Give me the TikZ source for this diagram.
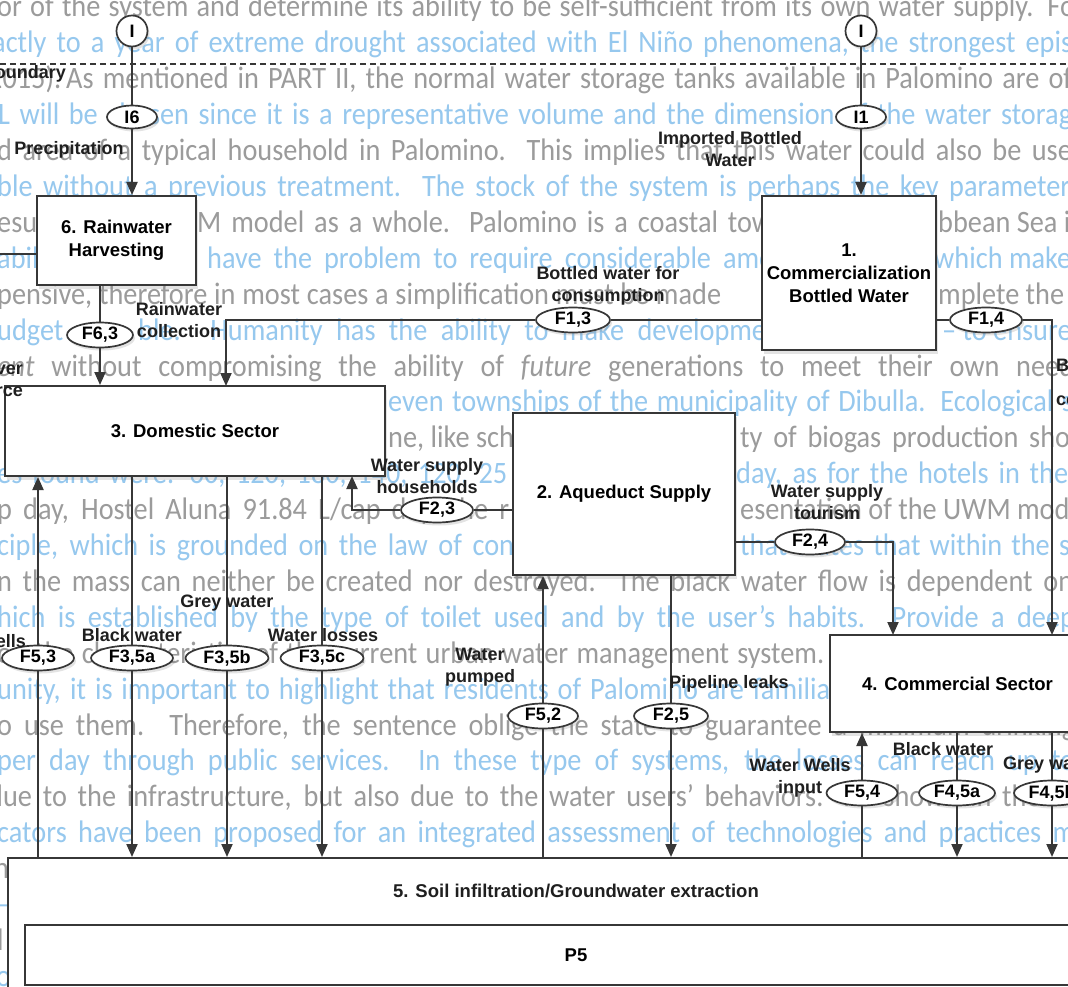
\documentclass[tikz,border=0pt]{standalone}
\usepackage{fontspec}
\setmainfont{Liberation Sans}
\newfontfamily\bgfont{Carlito}
\usetikzlibrary{arrows.meta,positioning,shapes.geometric,shadows,calc}
\definecolor{bggray}{RGB}{155,155,155}
\definecolor{bgblue}{RGB}{150,200,238}
\definecolor{ink}{RGB}{55,55,55}

\begin{document}
\begin{tikzpicture}[x=1pt, y=-1pt, >={Triangle[length=13pt,width=11pt]},
	box/.style={draw=ink, line width=2pt, fill=white, inner sep=0pt, align=center,
		font=\bfseries\fontsize{18.5}{23}\selectfont,
		drop shadow={shadow xshift=2pt, shadow yshift=-4pt, opacity=.22}},
	inbox/.style={draw=ink, line width=2pt, fill=white, inner sep=0pt,
		font=\bfseries\fontsize{18.5}{23}\selectfont},
	flow/.style={ellipse, draw=ink, line width=1.7pt, fill=white, inner sep=0pt,
		minimum width=#1, minimum height=25pt, font=\bfseries\fontsize{18}{20}\selectfont,
		drop shadow={shadow xshift=2pt, shadow yshift=-3pt, opacity=.22}},
	flow/.default=72pt,
	io/.style={circle, draw=ink, line width=1.7pt, fill=white, inner sep=0pt,
		minimum size=31pt, font=\bfseries\fontsize{18}{20}\selectfont,
		drop shadow={shadow xshift=2pt, shadow yshift=-3pt, opacity=.22}},
	lbl/.style={align=center, inner sep=0pt, text=black!88,
		font=\bfseries\fontsize{18}{22}\selectfont},
	con/.style={draw=ink, line width=2pt},
	bg/.style={anchor=base west, inner sep=0pt, font=\bgfont\fontsize{28.3}{30}\selectfont}]

	\useasboundingbox (0,0) rectangle (1068,987);
	\fill[white] (0,0) rectangle (1068,987);
	\clip (0,0) rectangle (1068,987);

	% Achtergrondtekst (pagina achter de figuur)
	\foreach \i/\x/\k/\c/\t in {
		1/-3/1/bggray/{\makebox[1078pt][s]{or of the system and determine its ability to be self-sufficient from its own water supply. Fo}},
		2/-8/2/bgblue/{\makebox[1080pt][s]{actly to a year of extreme drought associated with El Niño phenomena, the strongest epis}},
		3/-12/3/bggray/{2015).},
		4/66/3/bggray/{\makebox[1006pt][s]{As mentioned in PART II, the normal water storage tanks available in Palomino are of}},
		5/-2/4/bgblue/{\makebox[1074pt][s]{L will be chosen since it is a representative volume and the dimension of the water storag}},
		6/-3/5/bggray/{\makebox[1075pt][s]{d area of a typical household in Palomino. This implies that this water could also be use}},
		7/-3/6/bgblue/{\makebox[1073pt][s]{ble without a previous treatment. The stock of the system is perhaps the key parameter}},
		8/-3/7/bggray/{esults},
		9/197/7/bggray/{\makebox[590pt][s]{M model as a whole. Palomino is a coastal town}},
		10/938/7/bggray/{bbean Sea is},
		11/-3/8/bgblue/{ability},
		12/207/8/bgblue/{\makebox[617pt][s]{have the problem to require considerable amounts}},
		13/934/8/bgblue/{which makes},
		14/-3/9/bggray/{\makebox[724pt][s]{pensive, therefore in most cases a simplification must be made}},
		15/938/9/bggray/{mplete the},
		16/-3/10/bgblue/{udget},
		17/138/10/bgblue/{\makebox[652pt][s]{ble. Humanity has the ability to make development}},
		18/942/10/bgblue/{– to ensure},
		19/-3/11/bggray/{\makebox[1088pt][s]{\textit{ent} without compromising the ability of \textit{future} generations to meet their own needs}},
		20/388/12/bgblue/{\makebox[685pt][s]{even townships of the municipality of Dibulla. Ecological s}},
		21/388/13/bggray/{ne, like schools},
		22/740/13/bggray/{\makebox[330pt][s]{ty of biogas production sho}},
		23/-3/14/bgblue/{\makebox[510pt][s]{es found were: 60, 120, 180, 140, 120, 25}},
		24/736/14/bgblue/{\makebox[332pt][s]{day, as for the hotels in the}},
		25/-3/15/bggray/{\makebox[512pt][s]{p day, Hostel Aluna 91.84 L/cap day, the r}},
		26/740/15/bggray/{esentation of the UWM mod},
		27/-3/16/bgblue/{\makebox[517pt][s]{ciple, which is grounded on the law of con}},
		28/740/16/bgblue/{\makebox[330pt][s]{that states that within the s}},
		29/-3/17/bggray/{\makebox[1076pt][s]{n the mass can neither be created nor destroyed. The black water flow is dependent on}},
		30/-3/18/bgblue/{\makebox[1078pt][s]{hich is established by the type of toilet used and by the user’s habits. Provide a deep}},
		31/-3/19/bggray/{\makebox[827pt][s]{on the characteristics of the current urban water management system.}},
		32/-3/20/bgblue/{\makebox[843pt][s]{unity, it is important to highlight that residents of Palomino are familiar}},
		33/-3/21/bggray/{\makebox[1078pt][s]{o use them. Therefore, the sentence oblige the state to guarantee a minimum drinking}},
		34/-3/22/bgblue/{\makebox[1078pt][s]{per day through public services. In these type of systems, the losses can reach up to}},
		35/-12/23/bggray/{\makebox[1086pt][s]{due to the infrastructure, but also due to the water users’ behaviors. As shown in the m}},
		36/-3/24/bgblue/{\makebox[1078pt][s]{cators have been proposed for an integrated assessment of technologies and practices m}},
		37/-6/25/bggray/{n},
		38/-4/26/bgblue/{–},
		39/-3/27/bggray/{l},
		40/-4/28/bgblue/{o}}
		\node[bg, text=\c] (bg\i) at (\x, {17+(\k-1)*35.9}) {\scalebox{1}[1.1]{\t}};

	% Systeemgrens
	\coordinate (gl) at (0,64);
	\coordinate (gr) at (1068,64);
	\draw[ink, line width=1.3pt, dash pattern=on 6pt off 4pt] (gl) -- (gr);
	\node[lbl, anchor=east] (grens) at (66,74) {Boundary};

	% Blokken
	\node[box, minimum width=159, minimum height=89] (rain) at (116.5,240.5) {6. Rainwater\\Harvesting};
	\node[box, minimum width=174, minimum height=154] (bott) at (849,273) {1.\\Commercialization\\Bottled Water};
	\node[box, minimum width=380, minimum height=90] (dom) at (195,431) {3. Domestic Sector};
	\node[box, minimum width=222, minimum height=162] (aqu) at (624,494) {2. Aqueduct Supply};
	\node[box, minimum width=255, minimum height=97] (comm) at (957.5,683.5) {4. Commercial Sector};
	\node[box, minimum width=1136, minimum height=132] (soil) at (576,924) {};
	\node[lbl, font=\bfseries\fontsize{18.5}{23}\selectfont] (soilt) at (576,891) {5. Soil infiltration/Groundwater extraction};
	\node[inbox, minimum width=1102, minimum height=60] (p5) at (576,955) {P5};

	% In- en uitgaande stromen
	\node[io] (inL) at (132,31) {I};
	\node[io] (inR) at (861,31) {I};
	\node[flow=50pt, minimum height=23pt] (i6) at (132,117) {I6};
	\node[flow=50pt, minimum height=23pt] (i1) at (861,117) {I1};
	\node[flow=66pt] (f63) at (100,335) {F6,3};
	\node[flow=74pt] (f13) at (573,320) {F1,3};
	\node[flow=72pt] (f14) at (986,320) {F1,4};
	\node[flow=72pt] (f23) at (437,510) {F2,3};
	\node[flow=70pt] (f24) at (810,542) {F2,4};
	\node[flow=72pt] (f53) at (38,658) {F5,3};
	\node[flow=82pt] (f35a) at (132,658) {F3,5a};
	\node[flow=83pt] (f35b) at (227,658) {F3,5b};
	\node[flow=83pt] (f35c) at (322,658) {F3,5c};
	\node[flow=70pt] (f52) at (543,716) {F5,2};
	\node[flow=74pt] (f25) at (671,716) {F2,5};
	\node[flow=71pt] (f54) at (862,793) {F5,4};
	\node[flow=76pt] (f45a) at (957,793) {F4,5a};
	\node[flow=76pt] (f45b) at (1052,793) {F4,5b};

	% Verbindingen
	\draw[con] (inL) -- (i6);
	\draw[con,->] (i6) -- (i6 |- rain.north);
	\draw[con] (inR) -- (i1);
	\draw[con,->] (i1) -- (i1 |- bott.north);
	\coordinate (lin) at (0,254);
	\draw[con] (lin) -- (lin -| rain.west);
	\draw[con] (f63 |- rain.south) -- (f63);
	\draw[con,->] (f63) -- (f63 |- dom.north);
	\coordinate (k13) at (226,386);
	\draw[con] (bott.west |- f13) -- (f13);
	\draw[con,->] (f13) -| (k13);
	\coordinate (k14) at (1052,635);
	\draw[con] (bott.east |- f14) -- (f14);
	\draw[con,->] (f14) -| (k14);
	\coordinate (k23) at (352,476);
	\draw[con] (aqu.west |- f23) -- (f23);
	\draw[con,->] (f23) -| (k23);
	\coordinate (k24) at (893,635);
	\draw[con] (aqu.east |- f24) -- (f24);
	\draw[con,->] (f24) -| (k24);
	\foreach \f in {f35a,f35b,f35c}{
		\draw[con] (\f |- dom.south) -- (\f);
		\draw[con,->] (\f) -- (\f |- soil.north);
	}
	\draw[con] (f53 |- soil.north) -- (f53);
	\draw[con,->] (f53) -- (f53 |- dom.south);
	\draw[con] (f52 |- soil.north) -- (f52);
	\draw[con,->] (f52) -- (f52 |- aqu.south);
	\draw[con] (f25 |- aqu.south) -- (f25);
	\draw[con,->] (f25) -- (f25 |- soil.north);
	\draw[con] (f54 |- soil.north) -- (f54);
	\draw[con,->] (f54) -- (f54 |- comm.south);
	\foreach \f in {f45a,f45b}{
		\draw[con] (\f |- comm.south) -- (\f);
		\draw[con,->] (\f) -- (\f |- soil.north);
	}

	% Labels
	\node[lbl] (lprec) at (69,150) {Precipitation};
	\node[lbl] (limp) at (730,149) {Imported Bottled\\Water};
	\node[lbl] (lrain) at (179,320) {Rainwater\\collection};
	\node[lbl] (lcons) at (608,286) {Bottled water for\\consumption};
	\node[lbl, anchor=west, align=left, font=\bfseries\fontsize{18}{34}\selectfont] (lcomm) at (1056,382) {Bottled water for\\commercial};
	\node[lbl, anchor=east, align=right] (lriv) at (23,379) {River\\source};
	\node[lbl] (lhh) at (427,476) {Water supply\\households};
	\node[lbl] (ltour) at (827,502) {Water supply\\tourism};
	\node[lbl, anchor=east] (lwells) at (26,641) {Water Wells};
	\node[lbl] (lbw) at (132,635) {Black water};
	\node[lbl] (lgw) at (227,603) {Grey water};
	\node[lbl] (lwl) at (323,635) {Water losses};
	\node[lbl] (lpump) at (480,667) {Water\\pumped};
	\node[lbl] (lleak) at (729,684) {Pipeline leaks};
	\node[lbl] (lbw4) at (943,749) {Black water};
	\node[lbl, anchor=west] (lgw4) at (1003,765) {Grey water};
	\node[lbl] (lwwi) at (800,778) {Water Wells\\input};

\end{tikzpicture}
\end{document}
